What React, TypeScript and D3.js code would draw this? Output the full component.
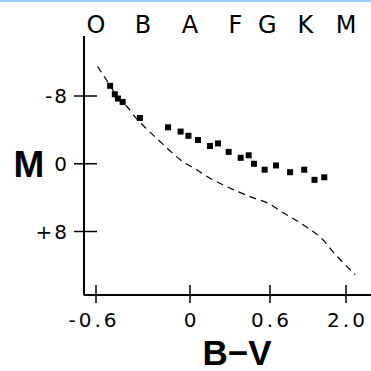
import React, { useEffect, useRef } from 'react';
import * as d3 from 'd3';

// spectral class labels along the top, placed at a B-V value
const classes = ['O', 'B', 'A', 'F', 'G', 'K', 'M'];
const classBV = [-0.6, -0.3, 0, 0.34, 0.58, 1.25, 2.0];

const xTicks = [-0.6, 0, 0.6, 2.0];
const xTickLabels = ['-0.6', '0', '0.6', '2.0'];
const yTicks = [-8, 0, 8];
const yTickLabels = ['-8', '0', '+8'];

// main sequence (dashed)
const msBV = [-0.59, -0.53, -0.47, -0.40, -0.34, -0.27, -0.19, -0.12, -0.05, 0.05, 0.15, 0.25, 0.36, 0.47, 0.59, 0.82, 1.06, 1.30, 1.58, 1.76, 1.95, 2.17];
const msM = [-11.5, -9.8, -8.1, -6.7, -5.3, -4.0, -2.6, -1.4, -0.3, 0.7, 1.7, 2.5, 3.3, 4.0, 4.7, 5.7, 6.6, 7.6, 9.0, 10.4, 11.7, 13.1];

// cluster stars (squares)
const starBV = [-0.51, -0.48, -0.46, -0.43, -0.32, -0.14, -0.06, -0.01, 0.06, 0.15, 0.21, 0.29, 0.38, 0.44, 0.48, 0.56, 0.71, 0.97, 1.23, 1.42, 1.60];
const starM = [-9.2, -8.2, -7.7, -7.3, -5.4, -4.3, -3.8, -3.3, -2.8, -2.1, -2.4, -1.4, -0.7, -1.0, 0.0, 0.7, 0.2, 1.0, 0.7, 1.9, 1.6];

const W = 371, H = 371;
const FONT = '"DejaVu Sans", sans-serif';
const BOLD = '"Liberation Sans", Arial, sans-serif';

const App = () => {
  const svgRef = useRef<SVGSVGElement>(null);

  useEffect(() => {
    const svg = d3.select(svgRef.current);
    svg.selectAll('*').remove();

    const x = d3.scaleLinear().domain([-0.6, 0, 0.6, 2.0]).range([96, 190, 270, 346]);
    const y = d3.scaleLinear().domain([-8, 8]).range([96, 231.5]);
    const axisX = 84, axisY = 295;

    svg.append('rect').attr('x', 0).attr('y', 0).attr('width', W).attr('height', 2).attr('fill', '#99ccff');

    // axes lines
    svg.append('line').attr('x1', axisX).attr('x2', axisX).attr('y1', 36).attr('y2', axisY + 0.5)
      .attr('stroke', '#000').attr('stroke-width', 2);
    svg.append('line').attr('x1', axisX).attr('x2', W).attr('y1', axisY).attr('y2', axisY)
      .attr('stroke', '#000').attr('stroke-width', 2);

    // y ticks
    svg.selectAll('.ytick').data(yTicks).join('line')
      .attr('x1', axisX - 10).attr('x2', axisX + 13)
      .attr('y1', d => y(d)).attr('y2', d => y(d))
      .attr('stroke', '#000').attr('stroke-width', 1.5);
    svg.selectAll('.ylab').data(yTicks).join('text')
      .attr('x', 69).attr('y', d => y(d)).attr('dy', '0.36em')
      .attr('text-anchor', 'end')
      .style('font-family', FONT).style('font-size', '20px').style('letter-spacing', '2px')
      .text((d, i) => yTickLabels[i]);

    // x ticks
    svg.selectAll('.xtick').data(xTicks).join('line')
      .attr('x1', d => x(d)).attr('x2', d => x(d))
      .attr('y1', axisY - 10).attr('y2', axisY + 8)
      .attr('stroke', '#000').attr('stroke-width', 1.5);
    svg.selectAll('.xlab').data(xTicks).join('text')
      .attr('x', (d, i) => x(d) + (i === 0 ? -2 : 1.5)).attr('y', 327)
      .attr('text-anchor', 'middle')
      .style('font-family', FONT).style('font-size', '20px').style('letter-spacing', '3px')
      .text((d, i) => xTickLabels[i]);

    // spectral classes
    svg.selectAll('.cls').data(classes).join('text')
      .attr('x', (d, i) => x(classBV[i])).attr('y', 33)
      .attr('text-anchor', 'middle')
      .style('font-family', FONT).style('font-size', '24px')
      .text(d => d);

    // axis titles
    svg.append('text').attr('x', 29).attr('y', 177).attr('text-anchor', 'middle')
      .style('font-family', BOLD).style('font-size', '37px').style('font-weight', 'bold')
      .text('M');
    svg.append('text').attr('x', 237).attr('y', 365).attr('text-anchor', 'middle')
      .style('font-family', BOLD).style('font-size', '35px').style('font-weight', 'bold')
      .text('B\u2212V');

    // main sequence
    const ms = msBV.map((b, i) => [b, msM[i]] as [number, number]);
    const line = d3.line<[number, number]>().x(d => x(d[0])).y(d => y(d[1])).curve(d3.curveMonotoneX);
    svg.append('path').attr('d', line(ms))
      .attr('fill', 'none').attr('stroke', '#000').attr('stroke-width', 1.2)
      .attr('stroke-dasharray', '7 5');

    // stars
    const s = 6;
    svg.selectAll('.star').data(starBV).join('rect')
      .attr('x', d => x(d) - s / 2).attr('y', (d, i) => y(starM[i]) - s / 2)
      .attr('width', s).attr('height', s).attr('fill', '#000');
  }, []);

  return (
    <svg ref={svgRef} width={W} height={H}
      style={{ position: 'absolute', left: 0, top: 0, background: '#fff' }} />
  );
};

export default App;
